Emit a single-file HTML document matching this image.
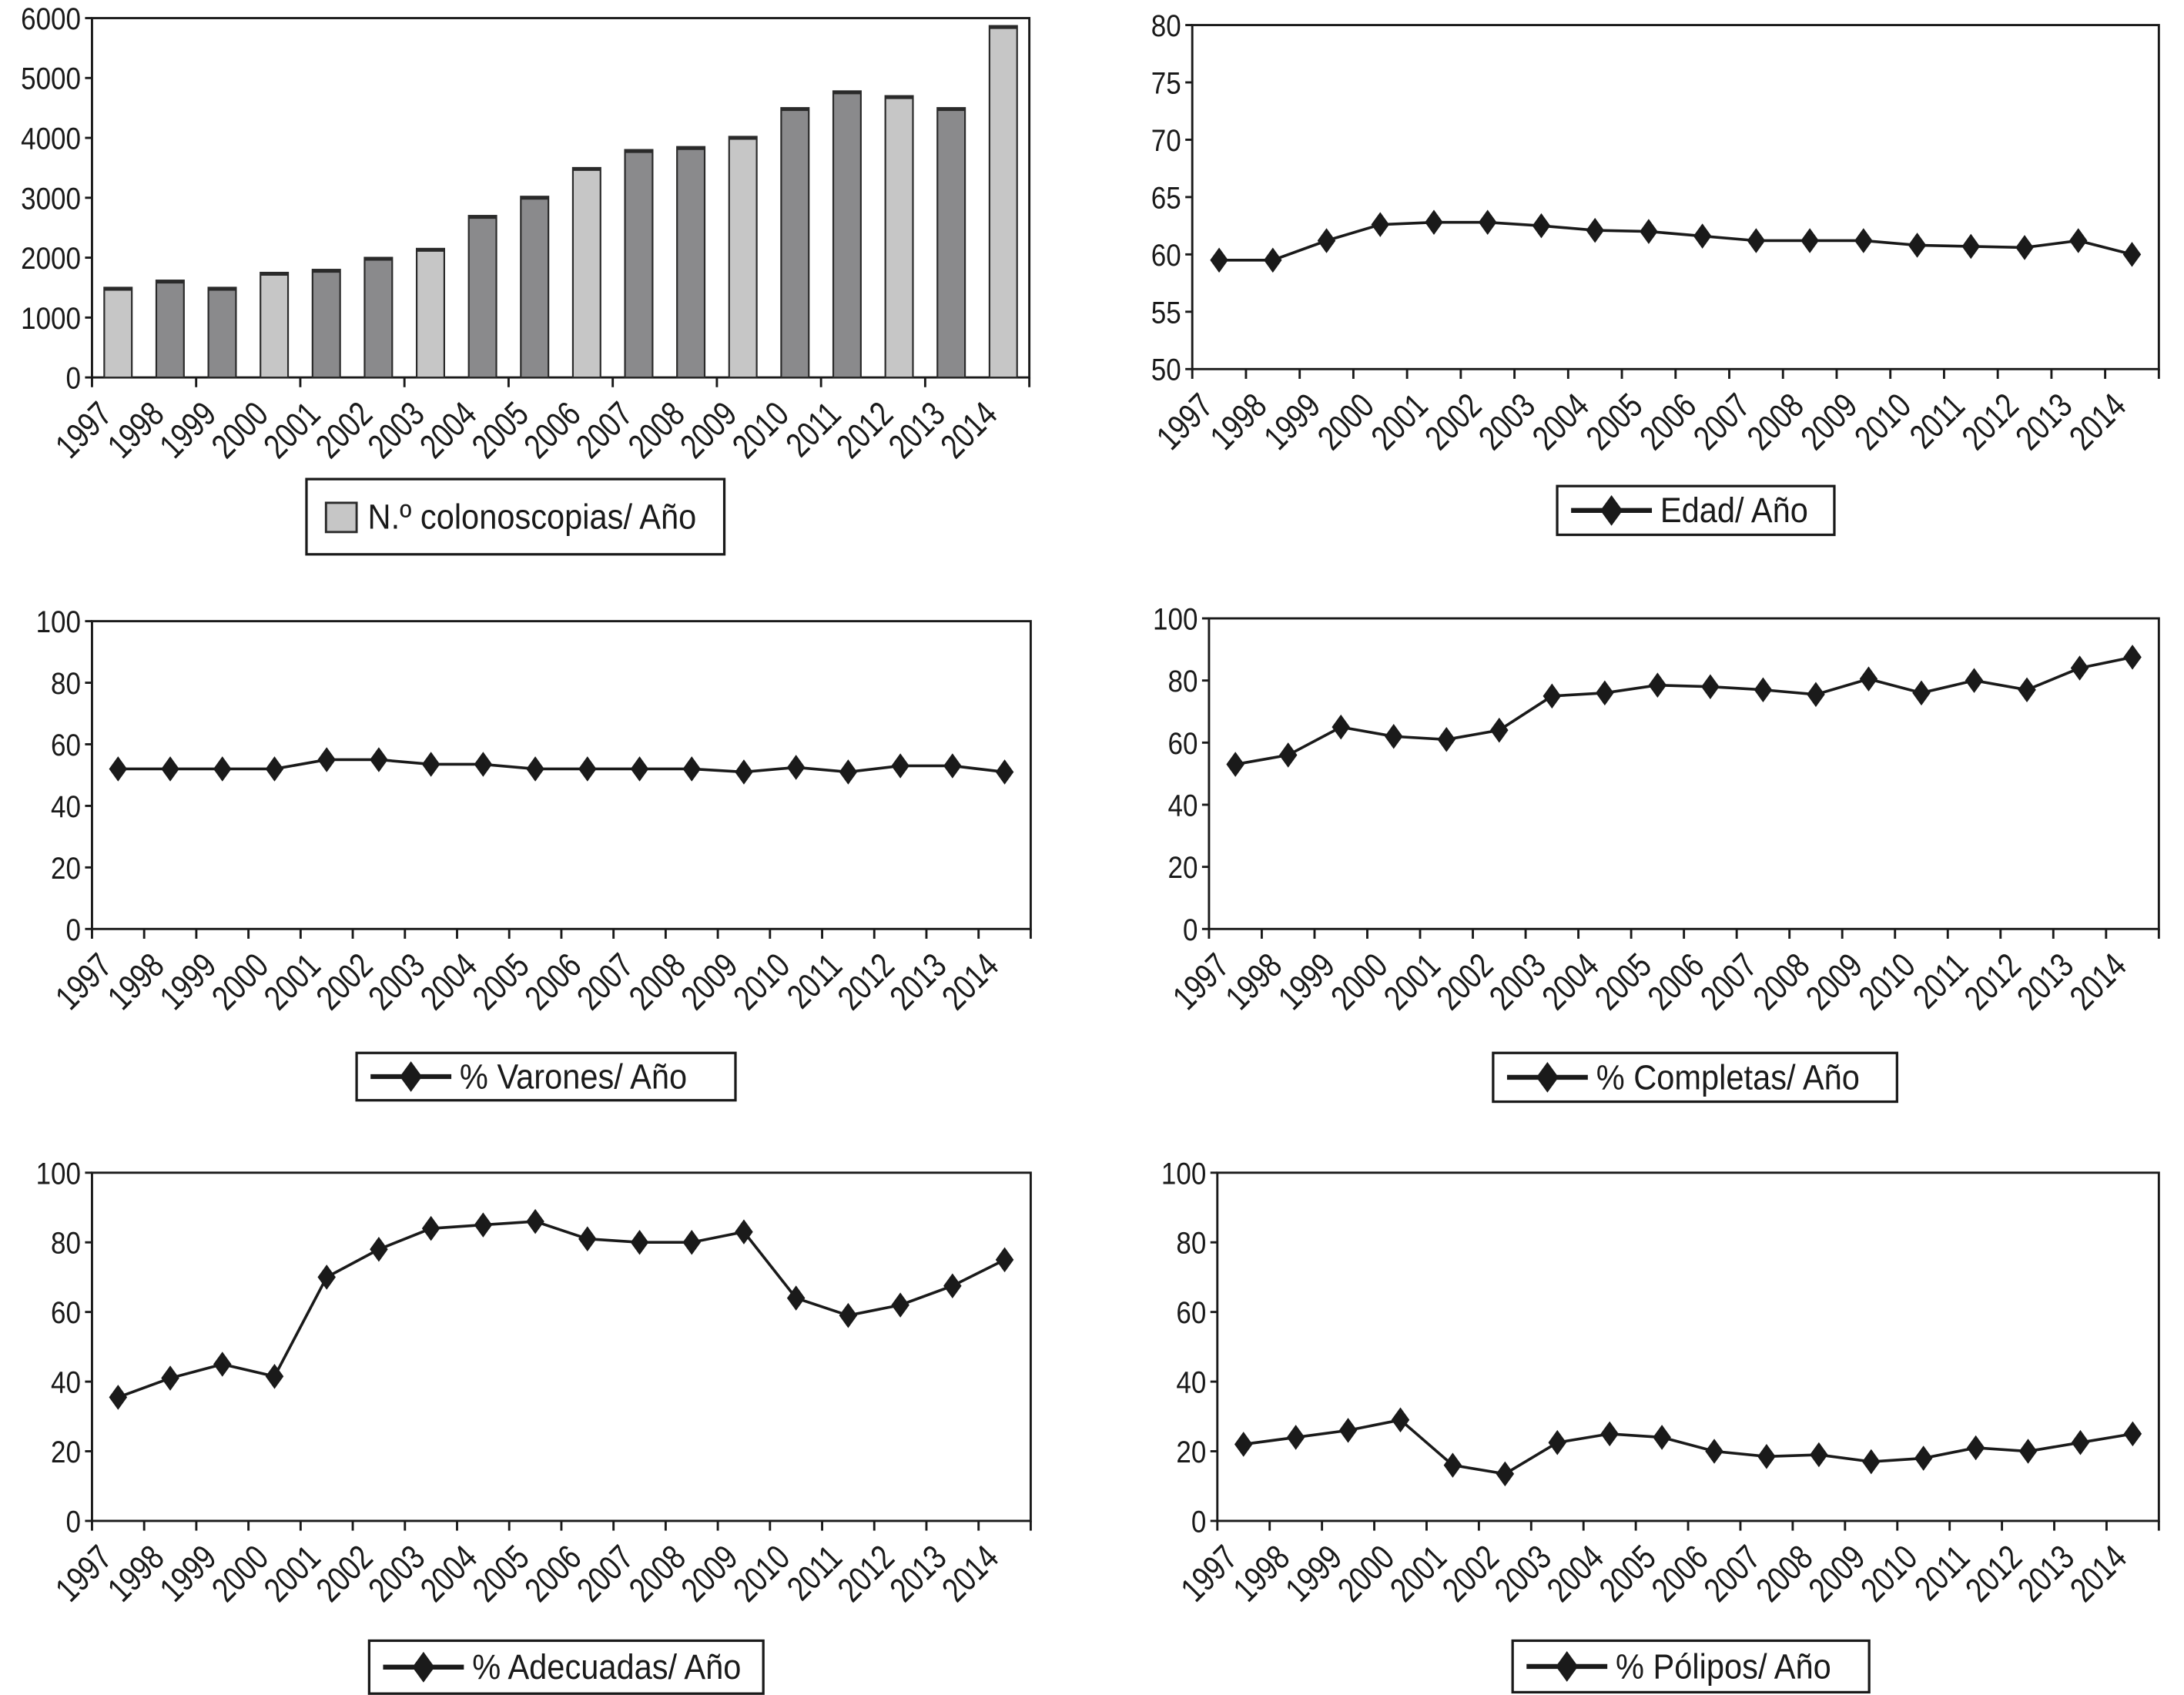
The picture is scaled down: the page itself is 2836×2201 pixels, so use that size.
<!DOCTYPE html>
<html><head><meta charset="utf-8"><style>
html,body{margin:0;padding:0;background:#fff;}
svg{display:block;}
text{font-family:"Liberation Sans",sans-serif;fill:#1a1a1a;}
</style></head>
<body>
<svg id="root" width="2836" height="2201" viewBox="0 0 1568 1217" xmlns="http://www.w3.org/2000/svg"></svg>
<script>
const years = ["1997","1998","1999","2000","2001","2002","2003","2004","2005","2006","2007","2008","2009","2010","2011","2012","2013","2014"];
const colonoscopias = [1500,1620,1500,1750,1800,2000,2150,2700,3020,3500,3800,3850,4020,4500,4780,4700,4500,5870];
const barLight = [1,0,0,1,0,0,1,0,0,1,0,0,1,0,0,1,0,1];
const edad = [59.5,59.5,61.2,62.6,62.8,62.8,62.5,62.1,62.0,61.6,61.2,61.2,61.2,60.8,60.7,60.6,61.2,60.0];
const varones = [52,52,52,52,55,55,53.5,53.5,52,52,52,52,51,52.5,51,53,53,51];
const completas = [53,56,65,62,61,64,75,76,78.5,78,77,75.5,80.5,76,80,77,84,87.5];
const adecuadas = [35.5,41,45,41.5,70,78,84,85,86,81,80,80,83,64,59,62,67.5,75];
const polipos = [22,24,26,29,16,13.5,22.5,25,24,20,18.5,19,17,18,21,20,22.5,25];
const ticks6000 = [0,1000,2000,3000,4000,5000,6000];
const ticksEdad = [50,55,60,65,70,75,80];
const ticks100 = [0,20,40,60,80,100];

const NS="http://www.w3.org/2000/svg";
const root=document.getElementById('root');
function mk(tag,attrs,parent){const e=document.createElementNS(NS,tag);for(const k in attrs)e.setAttribute(k,attrs[k]);(parent||root).appendChild(e);return e;}
function txt(parent,x,y,rot,sx,size,anchor,str){
  const t=mk('text',{x:0,y:0,'text-anchor':anchor,'font-size':size,transform:`translate(${x} ${y}) rotate(${rot}) scale(${sx} 1)`},parent);
  t.textContent=str;
  return t;
}

function chart(cfg){
  const g=mk('g',{});
  
  
  const {x0,x1,y0,y1,min,max}=cfg;
  const n=years.length, cw=(x1-x0)/n;
  const xs=i=>x0+cw*(i+0.5);
  const ys=v=>y1-(v-min)/(max-min)*(y1-y0);
  const fr=mk('rect',{x:x0,y:y0,width:x1-x0,height:y1-y0,fill:'none',stroke:'#1a1a1a','stroke-width':1.6},g);
  
  
  cfg.ticks.forEach(t=>{
    const y=ys(t);
    mk('line',{x1:x0-5,x2:x0,y1:y,y2:y,stroke:'#1a1a1a','stroke-width':1.6},g);
    const tx=txt(g,x0-8,y+8,0,0.88,22,'end',String(t));
    
    
  });
  const step=cfg.bars?2:1;
  for(let i=0;i<=n;i+=step){const x=x0+cw*i;mk('line',{x1:x,x2:x,y1:y1,y2:y1+7,stroke:'#1a1a1a','stroke-width':1.6},g);}
  years.forEach((yr,i)=>{
    const tx=txt(g,xs(i)-3,y1+28,-45,0.8,25,'end',yr);
    
    
  });
  if(cfg.bars){
    const bw=cw*0.53;
    cfg.data.forEach((v,i)=>{
      const r=mk('rect',{x:xs(i)-bw/2,y:ys(v),width:bw,height:y1-ys(v),fill:barLight[i]?'#c6c6c6':'#8a8a8c',stroke:'#2a2a2a','stroke-width':1.2},g);
      
      
      mk('line',{x1:xs(i)-bw/2,x2:xs(i)+bw/2,y1:ys(v)+1,y2:ys(v)+1,stroke:'#2a2a2a','stroke-width':2.4},g);
    });
  } else {
    const pts=cfg.data.map((v,i)=>xs(i)+','+ys(v)).join(' ');
    const pl=mk('polyline',{points:pts,fill:'none',stroke:'#1a1a1a','stroke-width':2},g);
    
    
    cfg.data.forEach((v,i)=>{
      const x=xs(i),y=ys(v);
      const d=mk('polygon',{points:`${x},${y-9} ${x+6.5},${y} ${x},${y+9} ${x-6.5},${y}`,fill:'#1a1a1a'},g);
      
      
    });
  }
  const L=cfg.leg;
  const lg=mk('g',{},g);
  
  
  mk('rect',{x:L[0],y:L[1],width:L[2]-L[0],height:L[3]-L[1],fill:'#fff',stroke:'#1a1a1a','stroke-width':1.8},lg);
  const cy=(L[1]+L[3])/2;
  let tx0;
  if(cfg.bars){
    mk('rect',{x:L[0]+14,y:cy-10,width:22,height:21,fill:'#c6c6c6',stroke:'#2a2a2a','stroke-width':1.6},lg);
    tx0=L[0]+44;
  } else {
    mk('line',{x1:L[0]+10,x2:L[0]+68,y1:cy,y2:cy,stroke:'#1a1a1a','stroke-width':3.5},lg);
    mk('polygon',{points:`${L[0]+39},${cy-11} ${L[0]+47},${cy} ${L[0]+39},${cy+11} ${L[0]+31},${cy}`,fill:'#1a1a1a'},lg);
    tx0=L[0]+74;
  }
  const t=txt(lg,tx0,cy+8.5,0,0.92,25,'start',cfg.label);
  
  
}

chart({name:'colonoscopias-bar-chart',bars:true,data:colonoscopias,x0:66,x1:739,y0:13,y1:271,min:0,max:6000,ticks:ticks6000,leg:[220,344,520,398],label:'N.º colonoscopias/ Año'});
chart({name:'edad-line-chart',data:edad,x0:856,x1:1550,y0:18,y1:265,min:50,max:80,ticks:ticksEdad,leg:[1118,349,1317,384],label:'Edad/ Año'});
chart({name:'varones-line-chart',data:varones,x0:66,x1:740,y0:446,y1:667,min:0,max:100,ticks:ticks100,leg:[256,756,528,790],label:'% Varones/ Año'});
chart({name:'completas-line-chart',data:completas,x0:868,x1:1550,y0:444,y1:667,min:0,max:100,ticks:ticks100,leg:[1072,756,1362,791],label:'% Completas/ Año'});
chart({name:'adecuadas-line-chart',data:adecuadas,x0:66,x1:740,y0:842,y1:1092,min:0,max:100,ticks:ticks100,leg:[265,1178,548,1216],label:'% Adecuadas/ Año'});
chart({name:'polipos-line-chart',data:polipos,x0:874,x1:1550,y0:842,y1:1092,min:0,max:100,ticks:ticks100,leg:[1086,1178,1342,1215],label:'% Pólipos/ Año'});
</script>
</body></html>
